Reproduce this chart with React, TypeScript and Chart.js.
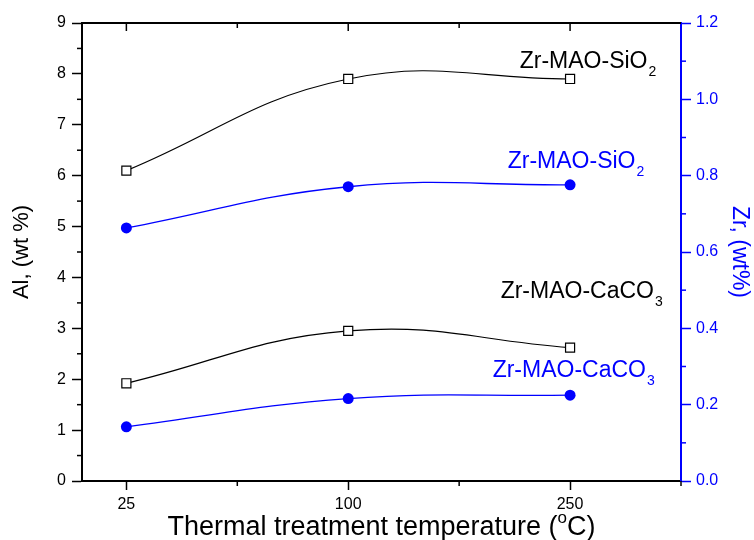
import { useEffect, useRef } from "react";
import { Chart, registerables } from "chart.js";

Chart.register(...registerables);

// ---- data ----
const xLabels = ["25", "100", "250"];
const xIndex = [0, 1, 2];
const alSiO2 = [6.1, 7.9, 7.9];
const alCaCO3 = [1.92, 2.95, 2.62];
const zrSiO2 = [0.663, 0.771, 0.776];
const zrCaCO3 = [0.142, 0.216, 0.225];

const xTickValues = [0, 0.5, 1, 1.5, 2, 2.5];
const alTickValues = [0, 0.5, 1, 1.5, 2, 2.5, 3, 3.5, 4, 4.5, 5, 5.5, 6, 6.5, 7, 7.5, 8, 8.5, 9];
const zrTickValues = [0, 0.1, 0.2, 0.3, 0.4, 0.5, 0.6, 0.7, 0.8, 0.9, 1.0, 1.1, 1.2];

const xTitleMain = "Thermal treatment temperature (";
const xTitleSup = "o";
const xTitleEnd = "C)";
const alTitle = "Al, (wt %)";
const zrTitle = "Zr, (wt%)";

const labelTexts = [
  { main: "Zr-MAO-SiO", sub: "2", blue: false },
  { main: "Zr-MAO-SiO", sub: "2", blue: true },
  { main: "Zr-MAO-CaCO", sub: "3", blue: false },
  { main: "Zr-MAO-CaCO", sub: "3", blue: true },
];
// anchor positions of the labels in data coordinates (x index, Al axis)
const labelAnchors = [
  { x: 1.773, y: 8.12 },
  { x: 1.719, y: 6.155 },
  { x: 1.687, y: 3.593 },
  { x: 1.651, y: 2.04 },
];

const FONT = "'Liberation Sans', Arial, Helvetica, sans-serif";
const BLUE = "#0000ff";
const BLACK = "#000000";

const isInt = (v: number) => Math.abs(v - Math.round(v)) < 1e-6;
const isMajorZr = (v: number) => Math.round(v * 10) % 2 === 0;

const decorPlugin = {
  id: "decor",
  afterDraw(chart: any) {
    const { ctx, chartArea: ca, scales } = chart;
    const xs = scales.x;
    const yl = scales.y;
    const yr = scales.y1;
    ctx.save();
    const line = (x1: number, y1: number, x2: number, y2: number) => {
      ctx.beginPath();
      ctx.moveTo(x1, y1);
      ctx.lineTo(x2, y2);
      ctx.stroke();
    };
    // top frame
    ctx.strokeStyle = BLACK;
    ctx.lineWidth = 2;
    line(ca.left - 1, ca.top, ca.right, ca.top);
    // top ticks (inward)
    ctx.lineWidth = 1.5;
    for (const v of xTickValues) {
      const px = xs.getPixelForValue(v);
      if (px >= ca.right - 1) continue;
      line(px, ca.top, px, ca.top + (isInt(v) ? 8 : 5));
    }
    // bottom minor ticks
    for (const v of xTickValues) {
      if (isInt(v)) continue;
      const px = xs.getPixelForValue(v);
      line(px, ca.bottom, px, ca.bottom + 5);
    }
    // left minor ticks
    for (const v of alTickValues) {
      if (isInt(v)) continue;
      const py = yl.getPixelForValue(v);
      line(ca.left - 5, py, ca.left, py);
    }
    // right minor ticks
    ctx.strokeStyle = BLUE;
    for (const v of zrTickValues) {
      if (isMajorZr(v)) continue;
      const py = yr.getPixelForValue(v);
      line(ca.right, py, ca.right + 5, py);
    }

    // x title with superscript
    ctx.fillStyle = BLACK;
    ctx.textBaseline = "alphabetic";
    ctx.textAlign = "left";
    const bigF = `27px ${FONT}`;
    const supF = `17px ${FONT}`;
    ctx.font = bigF;
    const w1 = ctx.measureText(xTitleMain).width;
    const w3 = ctx.measureText(xTitleEnd).width;
    ctx.font = supF;
    const w2 = ctx.measureText(xTitleSup).width;
    const total = w1 + w2 + w3;
    let tx = (ca.left + ca.right) / 2 - total / 2;
    const ty = 535;
    ctx.font = bigF;
    ctx.fillText(xTitleMain, tx, ty);
    tx += w1;
    ctx.font = supF;
    ctx.fillText(xTitleSup, tx, ty - 12);
    tx += w2;
    ctx.font = bigF;
    ctx.fillText(xTitleEnd, tx, ty);

    // series labels
    labelTexts.forEach((l, i) => {
      const a = labelAnchors[i];
      const px = xs.getPixelForValue(a.x);
      const py = yl.getPixelForValue(a.y);
      ctx.fillStyle = l.blue ? BLUE : BLACK;
      ctx.font = `23px ${FONT}`;
      ctx.fillText(l.main, px, py);
      const mw = ctx.measureText(l.main).width;
      ctx.font = `14px ${FONT}`;
      ctx.fillText(l.sub, px + mw + 1, py + 8);
    });
    ctx.restore();
  },
};

export default function App() {
  const ref = useRef<HTMLCanvasElement | null>(null);

  useEffect(() => {
    document.body.style.margin = "0";
    const canvas = ref.current;
    if (!canvas) return;
    const pts = (ys: number[]) => xIndex.map((x, i) => ({ x, y: ys[i] }));
    const chart = new Chart(canvas, {
      type: "line",
      data: {
        datasets: [
          {
            label: "Al Zr-MAO-SiO2",
            data: pts(alSiO2),
            yAxisID: "y",
            borderColor: BLACK,
            borderWidth: 1.2,
            tension: 0.42,
            pointStyle: "rect",
            pointRadius: 6.4,
            pointBorderWidth: 1.2,
            pointBorderColor: BLACK,
            pointBackgroundColor: "#ffffff",
          },
          {
            label: "Al Zr-MAO-CaCO3",
            data: pts(alCaCO3),
            yAxisID: "y",
            borderColor: BLACK,
            borderWidth: 1.2,
            tension: 0.42,
            pointStyle: "rect",
            pointRadius: 6.4,
            pointBorderWidth: 1.2,
            pointBorderColor: BLACK,
            pointBackgroundColor: "#ffffff",
          },
          {
            label: "Zr Zr-MAO-SiO2",
            data: pts(zrSiO2),
            yAxisID: "y1",
            borderColor: BLUE,
            borderWidth: 1.3,
            tension: 0.42,
            pointStyle: "circle",
            pointRadius: 5.5,
            pointBorderWidth: 0,
            pointBackgroundColor: BLUE,
          },
          {
            label: "Zr Zr-MAO-CaCO3",
            data: pts(zrCaCO3),
            yAxisID: "y1",
            borderColor: BLUE,
            borderWidth: 1.3,
            tension: 0.42,
            pointStyle: "circle",
            pointRadius: 5.5,
            pointBorderWidth: 0,
            pointBackgroundColor: BLUE,
          },
        ],
      },
      options: {
        responsive: false,
        animation: false,
        layout: { padding: { top: 23, left: 0, right: 0, bottom: 0 } },
        plugins: {
          legend: { display: false },
          tooltip: { enabled: false },
        },
        scales: {
          x: {
            type: "linear",
            position: "bottom",
            min: -0.2,
            max: 2.5,
            afterBuildTicks: (s: any) => {
              s.ticks = xTickValues.map((v) => ({ value: v }));
            },
            afterFit: (s: any) => {
              s.height = 59;
            },
            ticks: {
              autoSkip: false,
              maxRotation: 0,
              padding: 5,
              color: BLACK,
              font: { family: FONT, size: 16 },
              callback: (v: any) => (isInt(v) && xLabels[Math.round(v)] !== undefined ? xLabels[Math.round(v)] : ""),
            },
            grid: {
              drawOnChartArea: false,
              drawTicks: true,
              tickLength: 9,
              tickWidth: 1.5,
              tickColor: (c: any) => (c.tick && isInt(c.tick.value) && c.tick.value < 2.4 ? BLACK : "rgba(0,0,0,0)"),
            },
            border: { display: true, color: BLACK, width: 2 },
          },
          y: {
            type: "linear",
            position: "left",
            min: 0,
            max: 9,
            afterBuildTicks: (s: any) => {
              s.ticks = alTickValues.map((v) => ({ value: v }));
            },
            afterFit: (s: any) => {
              s.width = 82;
            },
            title: {
              display: true,
              text: alTitle,
              color: BLACK,
              font: { family: FONT, size: 22 },
              padding: { top: 9, bottom: 0 },
            },
            ticks: {
              autoSkip: false,
              padding: 6,
              color: BLACK,
              font: { family: FONT, size: 16 },
              callback: (v: any) => (isInt(v) ? String(Math.round(v)) : ""),
            },
            grid: {
              drawOnChartArea: false,
              drawTicks: true,
              tickLength: 10,
              tickWidth: 1.5,
              tickColor: (c: any) => (c.tick && isInt(c.tick.value) ? BLACK : "rgba(0,0,0,0)"),
            },
            border: { display: true, color: BLACK, width: 2 },
          },
          y1: {
            type: "linear",
            position: "right",
            min: 0,
            max: 1.2,
            afterBuildTicks: (s: any) => {
              s.ticks = zrTickValues.map((v) => ({ value: v }));
            },
            afterFit: (s: any) => {
              s.width = 73;
            },
            title: {
              display: true,
              text: zrTitle,
              color: BLUE,
              font: { family: FONT, size: 23 },
              padding: { top: 1, bottom: 0 },
            },
            ticks: {
              autoSkip: false,
              padding: 5,
              color: BLUE,
              font: { family: FONT, size: 16 },
              callback: (v: any) => (isMajorZr(v) ? Number(v).toFixed(1) : ""),
            },
            grid: {
              drawOnChartArea: false,
              drawTicks: true,
              tickLength: 10,
              tickWidth: 1.5,
              tickColor: (c: any) => (c.tick && isMajorZr(c.tick.value) ? BLUE : "rgba(0,0,0,0)"),
            },
            border: { display: true, color: BLUE, width: 2 },
          },
        },
      },
      plugins: [decorPlugin],
    } as any);
    return () => chart.destroy();
  }, []);

  return <canvas ref={ref} width={754} height={540} style={{ display: "block", width: 754, height: 540 }} />;
}
